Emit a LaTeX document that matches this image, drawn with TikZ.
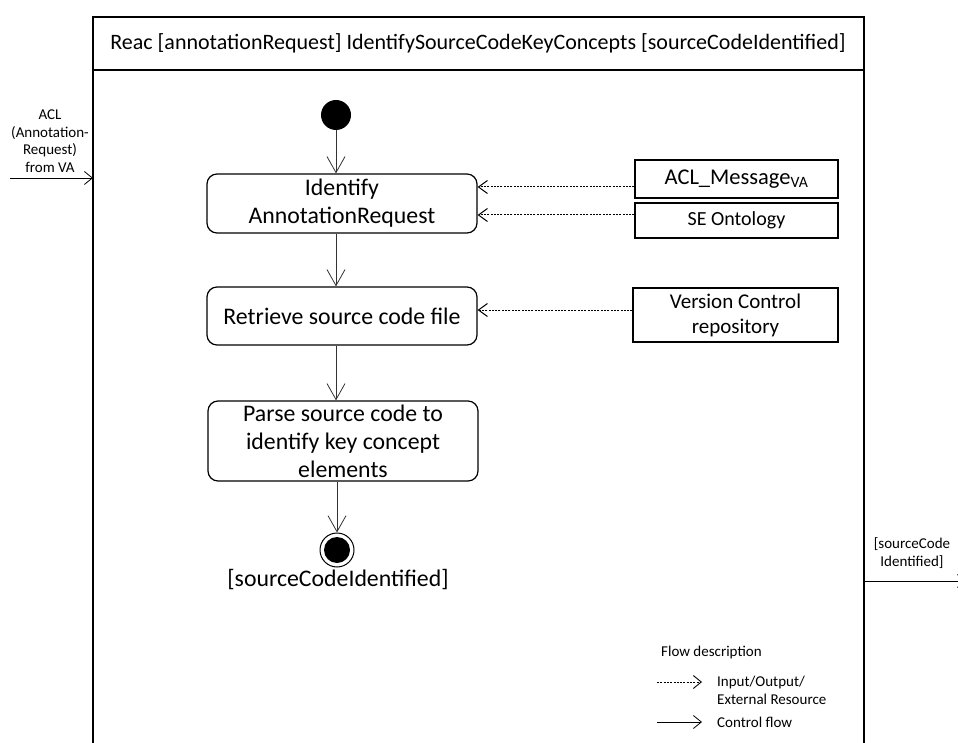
\documentclass[tikz,border=0pt]{standalone}
\usepackage{fontspec}
\setmainfont{Carlito}
\usetikzlibrary{arrows.meta}

\begin{document}
\begin{tikzpicture}[x=1pt, y=-1pt,
  action/.style={draw, line width=1.2pt, rounded corners=10pt, align=center,
    inner sep=0pt, font=\fontsize{23.8}{28}\selectfont},
  resource/.style={draw, line width=1.2pt, align=center, inner sep=0pt,
    font=\fontsize{21}{25}\selectfont},
  smalltext/.style={align=center, inner sep=0pt, font=\fontsize{15}{17.5}\selectfont},
  flow/.style={draw=black!80, line width=0.8pt, -{Straight Barb[length=16pt,width=18pt]}},
  io/.style={draw=black, line width=1pt, dash pattern=on 2pt off 1.3pt,
    -{Straight Barb[length=9pt,width=13pt]}},
  smallflow/.style={draw=black, line width=0.8pt, -{Straight Barb[length=8pt,width=13pt]}},
  smallio/.style={draw=black, line width=0.9pt, dash pattern=on 2pt off 1.3pt,
    -{Straight Barb[length=8pt,width=13pt]}}
]
\useasboundingbox (0,0) rectangle (958,743);

% activity frame, open at the bottom
\draw[line width=1.6pt] (93,760) -- (93,17) -- (864,17) -- (864,760);
\draw[line width=1.6pt] (93,70) -- (864,70);
\node[font=\fontsize{22}{26}\selectfont, inner sep=0pt] (title) at (478,43)
  {Reac [annotationRequest] IdentifySourceCodeKeyConcepts [sourceCodeIdentified]};

% initial and final states
\node[circle, fill, minimum size=30pt, inner sep=0pt] (start) at (336,115) {};
\node[circle, draw, line width=1pt, minimum size=34pt, inner sep=0pt,
  path picture={\fill (path picture bounding box.center) circle (13pt);}]
  (final) at (337,550) {};
\node[font=\fontsize{23.8}{28}\selectfont, inner sep=0pt] (finallabel) at (338,580)
  {[sourceCodeIdentified]};

% actions
\node[action, minimum width=270pt, minimum height=59pt] (identify) at (342,203.5)
  {Identify\\AnnotationRequest};
\node[action, minimum width=270pt, minimum height=58pt] (retrieve) at (342,316)
  {Retrieve source code file};
\node[action, minimum width=270pt, minimum height=80pt] (parse) at (343,441)
  {Parse source code to\\identify key concept\\elements};

% resources
\node[resource, minimum width=203pt, minimum height=38pt,
  font=\fontsize{22.5}{26}\selectfont] (aclmsg) at (736.5,179)
  {ACL\_Message\textsubscript{VA}};
\node[resource, minimum width=203pt, minimum height=35pt,
  font=\fontsize{20}{24}\selectfont] (seonto) at (736.5,220.5)
  {SE Ontology};
\node[resource, minimum width=205pt, minimum height=54pt] (vcs) at (735.5,315)
  {Version Control\\repository};

% control flow
\draw[flow] (start.south) -- (start.south |- identify.north);
\draw[flow] (identify.south -| start) -- (retrieve.north -| start);
\draw[flow] (retrieve.south -| start) -- (parse.north -| start);
\draw[flow] (parse.south -| final) -- (final.north);

% resource inputs
\draw[io] (aclmsg.west |- 0,187) -- (identify.east |- 0,187);
\draw[io] (seonto.west |- 0,215) -- (identify.east |- 0,215);
\draw[io] (vcs.west |- 0,310) -- (retrieve.east |- 0,310);

% incoming message
\node[smalltext] (aclin) at (50,141) {ACL\\(Annotation-\\Request)\\from VA};
\coordinate (aclsrc) at (10,178);
\coordinate (acldst) at (93,178);
\draw[smallflow] (aclsrc) -- (acldst);

% outgoing signal
\node[smalltext] (scout) at (912,553) {[sourceCode\\Identified]};
\coordinate (scsrc) at (864,581);
\coordinate (scdst) at (966,581);
\draw[smallflow] (scsrc) -- (scdst);

% legend
\node[smalltext, anchor=west] (legtitle) at (661,652) {Flow description};
\coordinate (lioa) at (657,682);
\coordinate (liob) at (702,682);
\draw[smallio] (lioa) -- (liob);
\node[smalltext, anchor=west, align=left] (legio) at (717,690.5)
  {Input/Output/\\External Resource};
\coordinate (lcfa) at (657,722);
\coordinate (lcfb) at (702,722);
\draw[smallflow] (lcfa) -- (lcfb);
\node[smalltext, anchor=west] (legcf) at (717,722) {Control flow};
\end{tikzpicture}
\end{document}
